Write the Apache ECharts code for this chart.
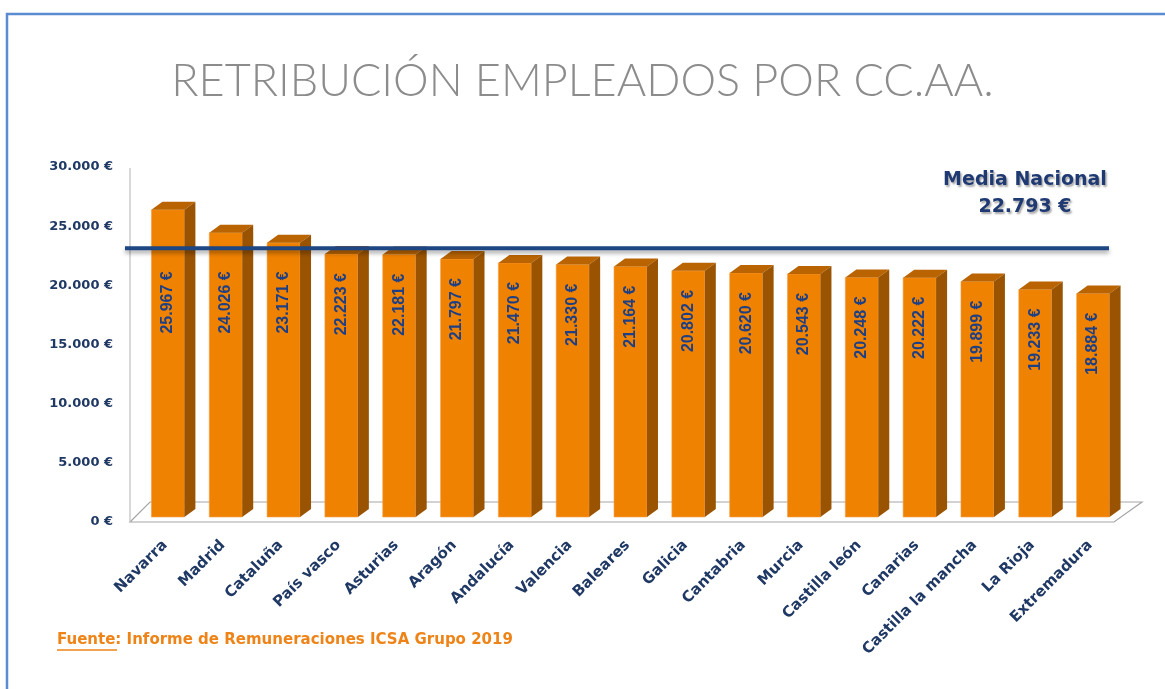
<!DOCTYPE html>
<html>
<head>
<meta charset="utf-8">
<title>Retribución empleados por CC.AA.</title>
<script src="https://cdn.jsdelivr.net/npm/echarts@6/dist/echarts.min.js"></script>
<style>
  html, body { margin: 0; padding: 0; background: #fff; }
  #chart { width: 1165px; height: 689px; }
</style>
</head>
<body>
<div id="chart"></div>
<script>
// datos
const regiones = ["Navarra", "Madrid", "Cataluña", "País vasco", "Asturias", "Aragón", "Andalucía",
  "Valencia", "Baleares", "Galicia", "Cantabria", "Murcia", "Castilla león", "Canarias",
  "Castilla la mancha", "La Rioja", "Extremadura"];
const salarios = [25967, 24026, 23171, 22223, 22181, 21797, 21470, 21330, 21164, 20802,
  20620, 20543, 20248, 20222, 19899, 19233, 18884];
const mediaNacional = 22793;
const yTicks = [0, 5000, 10000, 15000, 20000, 25000, 30000];

// 22793 -> "22.793 €"
function euros(v) {
  return String(v).replace(/\B(?=(\d{3})+(?!\d))/g, ".") + " €";
}

const FRENTE = "#EF8200";
const TAPA = "#B96400";
const LADO = "#9A5300";
const AZUL = "#1F3864";
const DX = 11, DY = 8, SHIFT = 5; // profundidad 3D

let chart = echarts.init(document.getElementById("chart"));

let option = {
  backgroundColor: "#fff",
  animation: false,
  title: {
    text: "RETRIBUCIÓN EMPLEADOS POR CC.AA.",
    left: "center",
    top: 54,
    textStyle: {
      color: "#8C8C8C",
      fontFamily: "Lato",
      fontWeight: 300,
      fontSize: 45
    }
  },
  grid: {
    left: 139,
    right: 43,
    top: 167,
    bottom: 167
  },
  xAxis: {
    type: "category",
    data: regiones,
    axisLine: { show: false },
    axisTick: { show: false },
    axisLabel: {
      interval: 0,
      rotate: 45,
      margin: 18,
      color: AZUL,
      fontFamily: "DejaVu Sans",
      fontWeight: "bold",
      fontSize: 15,
      padding: [0, 4, 0, 0]
    }
  },
  yAxis: {
    type: "value",
    min: yTicks[0],
    max: yTicks[yTicks.length - 1],
    interval: 5000,
    axisLine: { show: false },
    axisTick: { show: false },
    splitLine: { show: false },
    axisLabel: {
      margin: 26,
      color: AZUL,
      fontFamily: "DejaVu Sans",
      fontWeight: "bold",
      fontSize: 13,
      formatter: v => euros(v)
    }
  },
  graphic: [
    // marco azul
    { type: "polyline", shape: { points: [[7, 689], [7, 14], [1165, 14]] },
      style: { stroke: "#5B8BD0", lineWidth: 2.5, fill: null } },
    // suelo y pared
    { type: "polygon", z: -1, shape: { points: [[130, 522], [150, 502], [1142, 502], [1114, 522]] },
      style: { fill: "#fff", stroke: "#A6A6A6", lineWidth: 1.2 } },
    { type: "line", z: -1, shape: { x1: 130, y1: 168, x2: 130, y2: 522 },
      style: { stroke: "#BFBFBF", lineWidth: 1.2 } },
    // fuente
    { type: "text", left: 57, top: 633,
      style: {
        text: "Fuente: Informe de Remuneraciones ICSA Grupo 2019",
        fill: "#EE8418",
        fontFamily: "DejaVu Sans",
        fontWeight: "bold",
        fontSize: 15
      } },
    { type: "line", shape: { x1: 57, y1: 650, x2: 117, y2: 650 },
      style: { stroke: "#EE8418", lineWidth: 1.5 } }
  ],
  series: [
    {
      name: "Retribución",
      type: "custom",
      data: salarios.map((v, i) => [i, v]),
      encode: { x: 0, y: 1 },
      renderItem: (params, api) => {
        const idx = api.value(0);
        const top = api.coord([idx, api.value(1)]);
        const base = api.coord([idx, 0]);
        const bw = api.size([1, 0])[0] * 0.57;
        const x0 = top[0] - bw / 2;
        const yt = top[1] - SHIFT;
        const yb = base[1] - SHIFT;
        const mediaY = api.coord([0, mediaNacional])[1];
        const labelTop = Math.max(yt + 19, mediaY + 19);
        return {
          type: "group",
          children: [
            { type: "rect", shape: { x: x0, y: yt, width: bw, height: yb - yt },
              style: { fill: FRENTE, stroke: "#F5A04A", lineWidth: 0.6 } },
            { type: "polygon", shape: { points: [[x0, yt], [x0 + bw, yt], [x0 + bw + DX, yt - DY], [x0 + DX, yt - DY]] },
              style: { fill: TAPA } },
            { type: "polygon", shape: { points: [[x0 + bw, yt], [x0 + bw + DX, yt - DY], [x0 + bw + DX, yb - DY], [x0 + bw, yb]] },
              style: { fill: LADO } },
            { type: "text", x: top[0], y: labelTop, rotation: Math.PI / 2,
              style: {
                text: euros(api.value(1)),
                align: "right",
                verticalAlign: "middle",
                fill: "#1C3F86",
                fontFamily: "Liberation Sans",
                fontWeight: "bold",
                fontSize: 16
              } }
          ]
        };
      }
    },
    {
      name: "Media Nacional",
      type: "custom",
      z: 5,
      data: [[0, mediaNacional]],
      encode: { y: 1 },
      renderItem: (params, api) => {
        const cs = params.coordSys;
        const y = api.coord([0, api.value(1)])[1] - 4;
        const cx = cs.x + cs.width - 97;
        return {
          type: "group",
          children: [
            { type: "line", shape: { x1: cs.x - 14, y1: y, x2: cs.x + cs.width - 13, y2: y },
              style: { stroke: "#1E4682", lineWidth: 4, shadowBlur: 4, shadowOffsetY: 3, shadowColor: "rgba(0,0,0,0.35)" } },
            { type: "text", x: cx, y: 194,
              style: {
                text: "Media Nacional\n" + euros(api.value(1)),
                align: "center",
                verticalAlign: "middle",
                lineHeight: 27,
                fill: "#1F3A73",
                fontFamily: "DejaVu Sans",
                fontWeight: "bold",
                fontSize: 19,
                textShadowColor: "rgba(0,0,0,0.35)",
                textShadowBlur: 2,
                textShadowOffsetX: 1.5,
                textShadowOffsetY: 1.5
              } }
          ]
        };
      }
    }
  ]
};

chart.setOption(option);
</script>
</body>
</html>
